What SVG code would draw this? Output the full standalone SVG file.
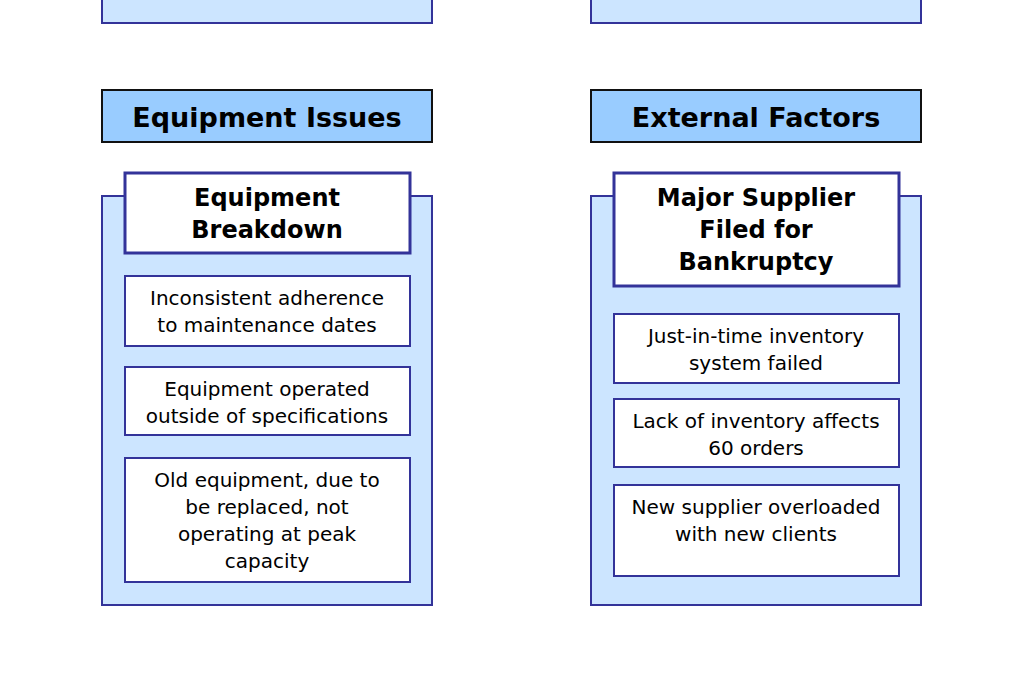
<svg xmlns="http://www.w3.org/2000/svg" width="1024" height="682" viewBox="0 0 1024 682">
<style>
.panel{fill:#cce5ff;stroke:#333399;stroke-width:2}
.hdr{fill:#99ccff;stroke:#111111;stroke-width:2}
.box{fill:#ffffff;stroke:#333399;stroke-width:2}
.title{fill:#ffffff;stroke:#333399;stroke-width:3}
text{font-family:"DejaVu Sans",Verdana,sans-serif;fill:#000;text-anchor:middle}
.h{font-size:27px;font-weight:bold}
.t{font-size:24px;font-weight:bold}
.s{font-size:20px}
</style>
<rect width="1024" height="682" fill="#ffffff"/>
<g id="top-left"><rect class="panel" x="102" y="-10" width="330" height="33"/></g>
<g id="top-right"><rect class="panel" x="591" y="-10" width="330" height="33"/></g>
<g id="equipment-issues">
<rect class="hdr" x="102" y="90" width="330" height="52"/>
<text class="h" x="267" y="127">Equipment Issues</text>
</g>
<g id="external-factors">
<rect class="hdr" x="591" y="90" width="330" height="52"/>
<text class="h" x="756" y="127">External Factors</text>
</g>
<g id="equipment-panel">
<rect class="panel" x="102" y="196" width="330" height="409"/>
</g>
<g id="external-panel">
<rect class="panel" x="591" y="196" width="330" height="409"/>
</g>
<g id="equipment-breakdown">
<rect class="title" x="125" y="173" width="285" height="80"/>
<text class="t" x="267" y="206">Equipment</text>
<text class="t" x="267" y="238">Breakdown</text>
</g>
<g id="inconsistent">
<rect class="box" x="125" y="276" width="285" height="70"/>
<text class="s" x="267" y="305">Inconsistent adherence</text>
<text class="s" x="267" y="332">to maintenance dates</text>
</g>
<g id="operated-outside">
<rect class="box" x="125" y="367" width="285" height="68"/>
<text class="s" x="267" y="396">Equipment operated</text>
<text class="s" x="267" y="423">outside of specifications</text>
</g>
<g id="old-equipment">
<rect class="box" x="125" y="458" width="285" height="124"/>
<text class="s" x="267" y="487">Old equipment, due to</text>
<text class="s" x="267" y="514">be replaced, not</text>
<text class="s" x="267" y="541">operating at peak</text>
<text class="s" x="267" y="568">capacity</text>
</g>
<g id="major-supplier">
<rect class="title" x="614" y="173" width="285" height="113"/>
<text class="t" x="756" y="206">Major Supplier</text>
<text class="t" x="756" y="238">Filed for</text>
<text class="t" x="756" y="270">Bankruptcy</text>
</g>
<g id="jit-failed">
<rect class="box" x="614" y="314" width="285" height="69"/>
<text class="s" x="756" y="343">Just-in-time inventory</text>
<text class="s" x="756" y="370">system failed</text>
</g>
<g id="lack-inventory">
<rect class="box" x="614" y="399" width="285" height="68"/>
<text class="s" x="756" y="428">Lack of inventory affects</text>
<text class="s" x="756" y="455">60 orders</text>
</g>
<g id="new-supplier">
<rect class="box" x="614" y="485" width="285" height="91"/>
<text class="s" x="756" y="514">New supplier overloaded</text>
<text class="s" x="756" y="541">with new clients</text>
</g>
<g id="connectors"></g>
</svg>
